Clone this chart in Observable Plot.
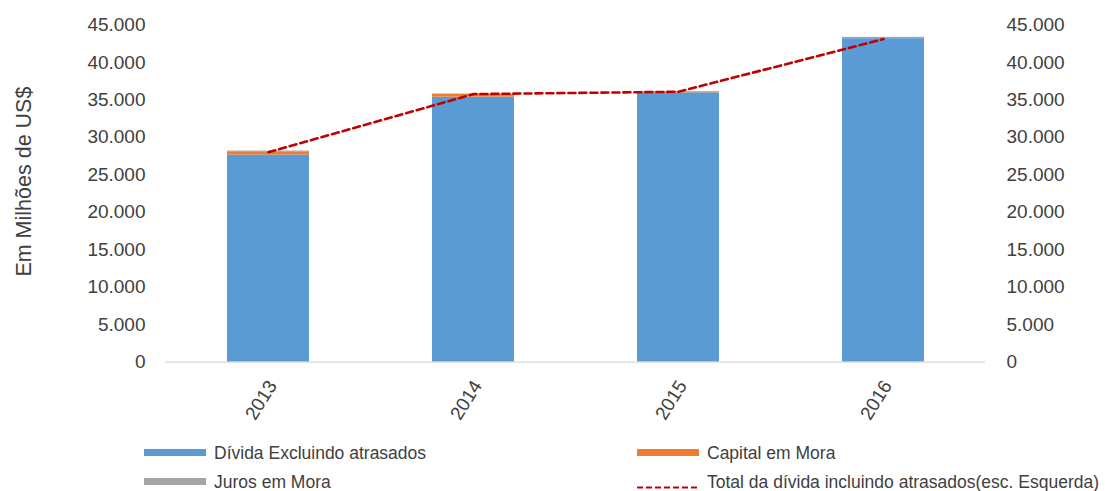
<!DOCTYPE html>
<html>
<head>
<meta charset="utf-8">
<script src="https://cdn.jsdelivr.net/npm/d3@7"></script>
<script src="https://cdn.jsdelivr.net/npm/@observablehq/plot@0.6"></script>
<style>
  html, body { margin: 0; padding: 0; background: #fff; }
  #wrap { position: relative; width: 1105px; height: 491px; overflow: hidden; font-family: "Liberation Sans", Arial, sans-serif; }
  .leg { position: absolute; display: flex; align-items: center; font-size: 17.5px; line-height: 20px; color: #404040; white-space: nowrap; }
  .sw { width: 62px; height: 7px; margin-right: 8px; flex: none; }
</style>
</head>
<body>
<div id="wrap"></div>
<script>
const years = ["2013", "2014", "2015", "2016"];
const divida = [27650, 35370, 35950, 43180];
const capital = [350, 400, 120, 0];
const juros = [180, 30, 60, 170];
const total = [28030, 35780, 36090, 43120];
const seriesNames = ["Dívida Excluindo atrasados", "Capital em Mora", "Juros em Mora"];
const seriesColors = ["#5B9BD5", "#ED7D31", "#A5A5A5"];
const lineName = "Total da dívida incluindo atrasados(esc. Esquerda)";
const yTicks = [0, 5000, 10000, 15000, 20000, 25000, 30000, 35000, 40000, 45000];
const yTitle = "Em Milhões de US$";

const rows = [];
years.forEach((yr, i) => {
  rows.push({year: yr, series: seriesNames[0], value: divida[i]});
  rows.push({year: yr, series: seriesNames[1], value: capital[i]});
  rows.push({year: yr, series: seriesNames[2], value: juros[i]});
});
const lineRows = years.map((yr, i) => ({year: yr, total: total[i]}));

const loc = d3.formatLocale({decimal: ",", thousands: ".", grouping: [3], currency: ["", ""]});
const fmt = loc.format(",");

const W = 1105, H = 430;
const plot = Plot.plot({
  width: W,
  height: H,
  marginLeft: 165,
  marginRight: 120,
  marginTop: 24.5,
  marginBottom: H - 361.7,
  style: {fontFamily: "Liberation Sans, Arial, sans-serif", fontSize: "19px", color: "#404040", background: "#fff"},
  x: {domain: years, paddingInner: 0.6, paddingOuter: 0.3, axis: null},
  y: {domain: [0, 45000], axis: null},
  color: {domain: seriesNames, range: seriesColors},
  marks: [
    Plot.axisY({anchor: "left", ticks: yTicks, tickFormat: fmt, tickSize: 0, tickPadding: 20, label: null}),
    Plot.axisY({anchor: "right", ticks: yTicks, tickFormat: fmt, tickSize: 0, tickPadding: 21, label: null}),
    Plot.barY(rows, {x: "year", y: "value", fill: "series"}),
    Plot.ruleY([0], {stroke: "#D9D9D9", strokeWidth: 1.3}),
    Plot.line(lineRows, {x: "year", y: "total", stroke: "#C00000", strokeWidth: 2.6, strokeDasharray: "7,4"}),
    Plot.text(years, {x: d => d, y: () => 0, text: d => d, rotate: -58, textAnchor: "end", dx: 4, dy: 20, fontSize: 19, fill: "#404040"}),
    Plot.text([yTitle], {frameAnchor: "left", text: d => d, rotate: -90, textAnchor: "middle", dx: -141, dy: -12, fontSize: 21.5, fill: "#404040"})
  ]
});
plot.style.position = "absolute";
plot.style.left = "0px";
plot.style.top = "0px";
const wrap = document.getElementById("wrap");
wrap.appendChild(plot);

function legendItem(left, top, color, label, dashed) {
  const d = document.createElement("div");
  d.className = "leg";
  d.style.left = left + "px";
  d.style.top = top + "px";
  let sw;
  if (dashed) {
    sw = document.createElementNS("http://www.w3.org/2000/svg", "svg");
    sw.setAttribute("width", 62);
    sw.setAttribute("height", 20);
    sw.style.marginRight = "8px";
    sw.style.flex = "none";
    const ln = document.createElementNS("http://www.w3.org/2000/svg", "line");
    ln.setAttribute("x1", 0); ln.setAttribute("x2", 62);
    ln.setAttribute("y1", 15.5); ln.setAttribute("y2", 15.5);
    ln.setAttribute("stroke", color);
    ln.setAttribute("stroke-width", 2);
    ln.setAttribute("stroke-dasharray", "6,3");
    sw.appendChild(ln);
  } else {
    sw = document.createElement("div");
    sw.className = "sw";
    sw.style.background = color;
  }
  const t = document.createElement("span");
  t.textContent = label;
  d.appendChild(sw);
  d.appendChild(t);
  wrap.appendChild(d);
}
legendItem(144, 442.8, seriesColors[0], seriesNames[0], false);
legendItem(637, 442.8, seriesColors[1], seriesNames[1], false);
legendItem(144, 471.8, seriesColors[2], seriesNames[2], false);
legendItem(637, 471.8, "#C00000", lineName, true);
</script>
</body>
</html>
